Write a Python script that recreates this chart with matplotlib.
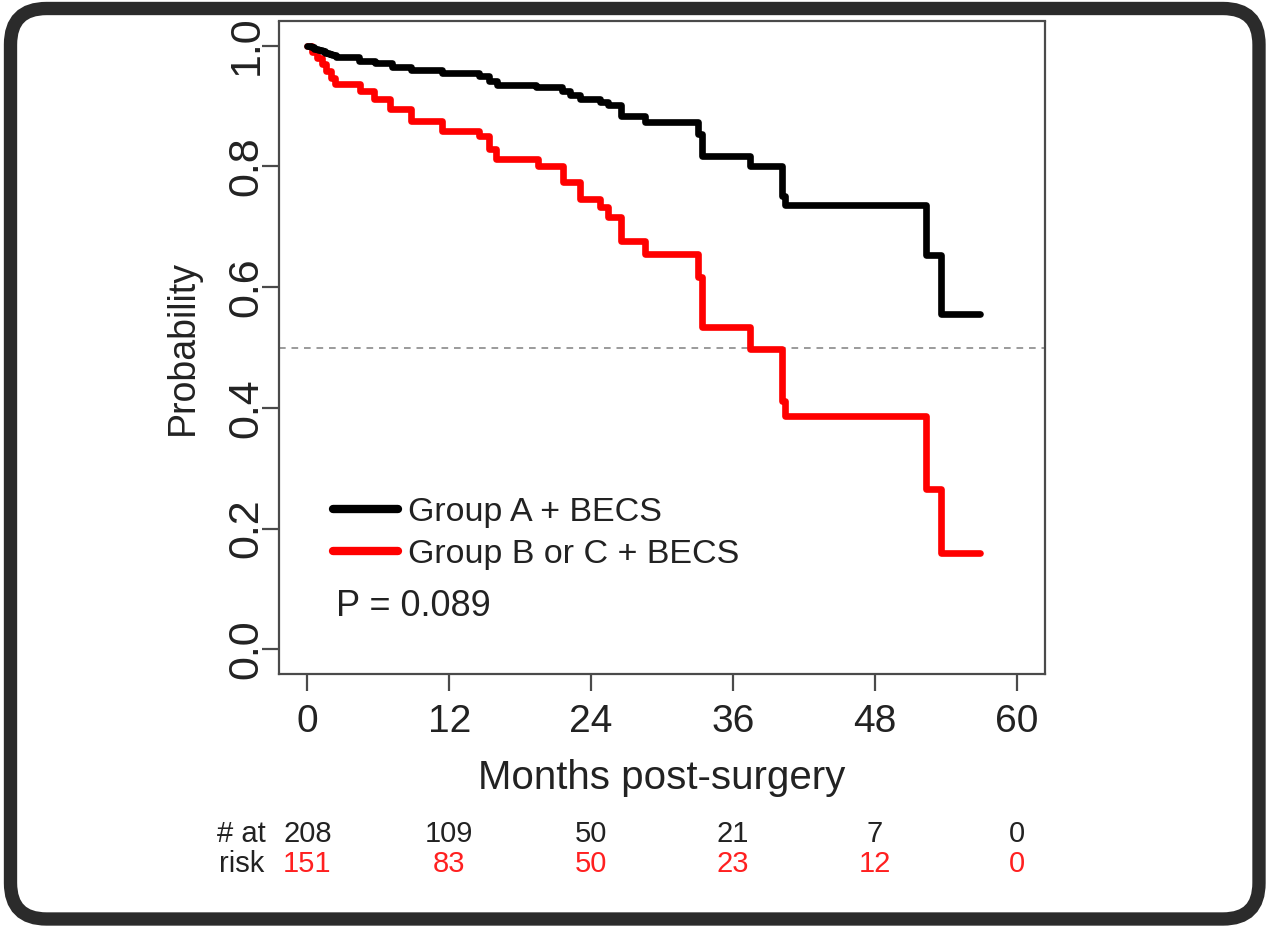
import matplotlib
matplotlib.use("Agg")
import matplotlib.pyplot as plt
from matplotlib.patches import FancyBboxPatch
from matplotlib.lines import Line2D
from matplotlib import transforms

plt.rcParams['font.family'] = ['Liberation Sans', 'DejaVu Sans']

# ---------------- data ----------------
group_labels = ["Group A + BECS", "Group B or C + BECS"]
group_colors = ["black", "#ff0000"]

black_t = [0, 0.3, 0.6, 0.9, 1.2, 1.5, 1.8, 2.1, 2.46, 4.33, 5.75, 7.14, 8.73,
           11.39, 14.53, 15.38, 16.06, 19.35, 21.58, 22.18, 23.03, 24.73, 25.4,
           26.57, 28.55, 33.08, 33.36, 37.41, 40.16, 40.44, 52.34, 53.61, 56.86]
black_s = [1.0, 0.997, 0.995, 0.993, 0.991, 0.988, 0.986, 0.984, 0.981, 0.975,
           0.971, 0.965, 0.959, 0.954, 0.949, 0.942, 0.935, 0.932, 0.925, 0.918,
           0.912, 0.906, 0.901, 0.884, 0.873, 0.854, 0.818, 0.800, 0.751, 0.736,
           0.653, 0.555, 0.555]

red_t = [0, 0.4, 0.8, 1.2, 1.6, 2.0, 2.35, 4.48, 5.6, 7.03, 8.73, 11.41, 14.53,
         15.38, 15.95, 19.48, 21.6, 23.03, 24.73, 25.43, 26.57, 28.55, 33.08,
         33.36, 37.41, 40.16, 40.44, 52.34, 53.61, 56.86]
red_s = [1.0, 0.99, 0.98, 0.97, 0.958, 0.946, 0.936, 0.925, 0.912, 0.895, 0.876,
         0.859, 0.851, 0.829, 0.812, 0.801, 0.774, 0.746, 0.732, 0.716, 0.677,
         0.655, 0.617, 0.534, 0.497, 0.412, 0.387, 0.265, 0.160, 0.160]

x_ticks = [0, 12, 24, 36, 48, 60]
y_ticks = [0.0, 0.2, 0.4, 0.6, 0.8, 1.0]
y_ticklabels = ["0.0", "0.2", "0.4", "0.6", "0.8", "1.0"]
risk_black = [208, 109, 50, 21, 7, 0]
risk_red = [151, 83, 50, 23, 12, 0]
risk_title = ["# at", "risk"]
p_text = "P = 0.089"
median_line = 0.5

# ---------------- figure ----------------
W, H = 1266, 926
fig = plt.figure(figsize=(W / 100, H / 100), dpi=100, facecolor="white")

ax_left, ax_right, ax_top, ax_bottom = 279, 1045, 21.5, 673.5
ax = fig.add_axes([ax_left / W, (H - ax_bottom) / H,
                   (ax_right - ax_left) / W, (ax_bottom - ax_top) / H])

txt = "#222222"
spine_c = "#4a4a4a"

ax.set_xlim(-2.4, 62.4)
ax.set_ylim(-0.04, 1.04)

ax.axhline(median_line, color="#8a8a8a", lw=1.2, ls=(0, (4, 3.5)), zorder=1)

ax.step(black_t, black_s, where="post", color=group_colors[0], lw=4.8,
        solid_joinstyle="round", solid_capstyle="round", zorder=3)
ax.step(red_t, red_s, where="post", color=group_colors[1], lw=4.8,
        solid_joinstyle="round", solid_capstyle="round", zorder=2)

for s in ax.spines.values():
    s.set_color(spine_c)
    s.set_linewidth(1.6)

ax.set_xticks(x_ticks)
ax.set_xticklabels([str(v) for v in x_ticks])
ax.set_yticks(y_ticks)
ax.set_yticklabels(y_ticklabels, rotation=90, va="center")
ax.tick_params(axis="x", length=12, width=1.6, color=spine_c, labelsize=28,
               labelcolor=txt, pad=10)
ax.tick_params(axis="y", length=12, width=1.6, color=spine_c, labelsize=31,
               labelcolor=txt, pad=-3)

ax.set_xlabel("Months post-surgery", fontsize=29, color=txt)
ax.xaxis.set_label_coords(0.5, (ax_bottom - 759) / (ax_bottom - ax_top))
ax.set_ylabel("Probability", fontsize=27, color=txt)
ax.yaxis.set_label_coords((201 - ax_left) / (ax_right - ax_left), 0.5)

handles = [Line2D([], [], color=c, lw=6, solid_capstyle="round") for c in group_colors]
leg = ax.legend(handles, group_labels, loc="center left",
                bbox_to_anchor=((333 - ax_left) / (ax_right - ax_left),
                                (ax_bottom - 533.5) / (ax_bottom - ax_top)),
                frameon=False, fontsize=24.5, handlelength=1.9,
                handletextpad=0.3, labelspacing=0.3, borderpad=0,
                borderaxespad=0)
for t in leg.get_texts():
    t.set_color(txt)

ax.text(2.46, 0.071, p_text, fontsize=26, color=txt, ha="left", va="center")

# risk table
tr = transforms.blended_transform_factory(ax.transData, fig.transFigure)
y_row1 = 1 - 834 / H
y_row2 = 1 - 864 / H
x_title = -5.6
ax.text(x_title, y_row1, risk_title[0], transform=tr, ha="center", va="center",
        fontsize=21, color=txt, clip_on=False)
ax.text(x_title, y_row2, risk_title[1], transform=tr, ha="center", va="center",
        fontsize=21, color=txt, clip_on=False)
for xt, nb, nr in zip(x_ticks, risk_black, risk_red):
    ax.text(xt, y_row1, str(nb), transform=tr, ha="center", va="center",
            fontsize=21, color=txt, clip_on=False)
    ax.text(xt, y_row2, str(nr), transform=tr, ha="center", va="center",
            fontsize=21, color="#ff2020", clip_on=False)

# rounded outer frame
frame = FancyBboxPatch((10.5, H - 919), 1259 - 10.5, 919 - 8.5,
                       boxstyle="round,pad=0,rounding_size=36",
                       transform=transforms.IdentityTransform(),
                       linewidth=9.6, edgecolor="#2b2b2b", facecolor="none",
                       zorder=5)
fig.add_artist(frame)

fig.savefig("out.png", dpi=100, facecolor="white")
